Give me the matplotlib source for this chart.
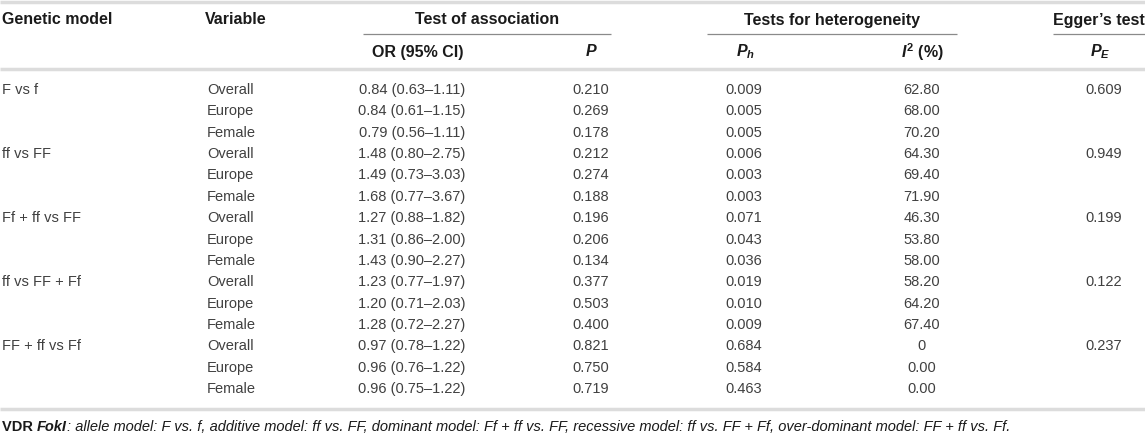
import matplotlib
matplotlib.use("Agg")
import matplotlib.pyplot as plt

plt.rcParams["font.family"] = ["Liberation Sans", "DejaVu Sans"]
plt.rcParams["mathtext.fontset"] = "custom"
plt.rcParams["mathtext.it"] = "Liberation Sans:italic:bold"
plt.rcParams["mathtext.rm"] = "Liberation Sans:bold"
plt.rcParams["mathtext.bf"] = "Liberation Sans:bold"

# table contents
models = ["F vs f", "ff vs FF", "Ff + ff vs FF", "ff vs FF + Ff", "FF + ff vs Ff"]
variables = ["Overall", "Europe", "Female"]
or_ci = ["0.84 (0.63\u20131.11)", "0.84 (0.61\u20131.15)", "0.79 (0.56\u20131.11)",
         "1.48 (0.80\u20132.75)", "1.49 (0.73\u20133.03)", "1.68 (0.77\u20133.67)",
         "1.27 (0.88\u20131.82)", "1.31 (0.86\u20132.00)", "1.43 (0.90\u20132.27)",
         "1.23 (0.77\u20131.97)", "1.20 (0.71\u20132.03)", "1.28 (0.72\u20132.27)",
         "0.97 (0.78\u20131.22)", "0.96 (0.76\u20131.22)", "0.96 (0.75\u20131.22)"]
p_assoc = ["0.210", "0.269", "0.178", "0.212", "0.274", "0.188", "0.196", "0.206",
           "0.134", "0.377", "0.503", "0.400", "0.821", "0.750", "0.719"]
p_het = ["0.009", "0.005", "0.005", "0.006", "0.003", "0.003", "0.071", "0.043",
         "0.036", "0.019", "0.010", "0.009", "0.684", "0.584", "0.463"]
i2 = ["62.80", "68.00", "70.20", "64.30", "69.40", "71.90", "46.30", "53.80",
      "58.00", "58.20", "64.20", "67.40", "0", "0.00", "0.00"]
p_egger = ["0.609", "0.949", "0.199", "0.122", "0.237"]

W, H = 1145, 433
fig = plt.figure(figsize=(W / 100, H / 100), dpi=100)
ax = fig.add_axes([0, 0, 1, 1])
ax.set_xlim(0, W)
ax.set_ylim(H, 0)
ax.axis("off")

hdr = dict(fontsize=11.5, fontweight="bold", color="#1a1a1a", va="center")
dat = dict(fontsize=10.5, color="#404040", va="center")

# rules
for y in (1.5, 69, 409):
    ax.plot([0, W], [y, y], color="#dcdcdc", lw=2.5, solid_capstyle="butt")
for x0, x1 in ((363, 611), (707, 957), (1053, 1145)):
    ax.plot([x0, x1], [34, 34], color="#8a8a8a", lw=0.9, solid_capstyle="butt")

# header
ax.text(2, 20, "Genetic model", ha="left", **hdr)
ax.text(205, 20, "Variable", ha="left", **hdr)
ax.text(487, 20, "Test of association", ha="center", **hdr)
ax.text(832, 20, "Tests for heterogeneity", ha="center", **hdr)
ax.text(1099, 20, "Egger\u2019s test", ha="center", **hdr)
ax.text(418, 52, "OR (95% CI)", ha="center", **hdr)
ax.text(591, 52, "P", ha="center", fontstyle="italic", **hdr)
ax.text(745, 52, "$P_{h}$", ha="center", **hdr)
ax.text(922, 52, "$I^{2}$ (%)", ha="center", **hdr)
ax.text(1100, 52, "$P_{E}$", ha="center", **hdr)

# body
y0, dy = 90, 21.36
for i in range(len(or_ci)):
    y = y0 + i * dy
    if i % 3 == 0:
        ax.text(2, y, models[i // 3], ha="left", **dat)
        ax.text(1104, y, p_egger[i // 3], ha="center", **dat)
    ax.text(207, y, variables[i % 3], ha="left", **dat)
    ax.text(412, y, or_ci[i], ha="center", **dat)
    ax.text(591, y, p_assoc[i], ha="center", **dat)
    ax.text(744, y, p_het[i], ha="center", **dat)
    ax.text(922, y, i2[i], ha="center", **dat)

# footnote
fn = dict(fontsize=10.5, color="#1a1a1a", va="center")
t = ax.text(2, 427, "VDR ", ha="left", fontweight="bold", **fn)
t = ax.annotate("FokI", xy=(1, 0.5), xycoords=t, ha="left", fontweight="bold",
                fontstyle="italic", **fn)
ax.annotate(": allele model: F vs. f, additive model: ff vs. FF, dominant model: "
            "Ff + ff vs. FF, recessive model: ff vs. FF + Ff, over-dominant model: "
            "FF + ff vs. Ff.", xy=(1, 0.5), xycoords=t, ha="left",
            fontstyle="italic", **fn)

fig.savefig("out.png", dpi=100)
